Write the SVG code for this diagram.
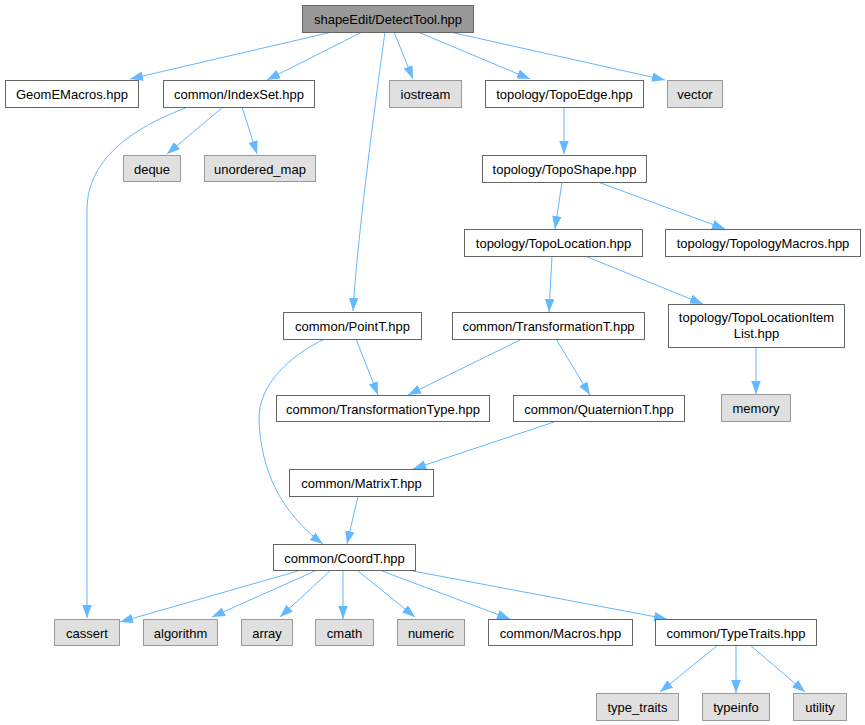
<svg xmlns="http://www.w3.org/2000/svg" width="865" height="725" viewBox="0 0 865 725">
<style>
.n rect{fill:#ffffff;stroke:#666666;stroke-width:1}
.g rect{fill:#e0e0e0;stroke:#999999;stroke-width:1}
.r rect{fill:#999999;stroke:#666666;stroke-width:1}
text{font-family:"Liberation Sans",Arial,sans-serif;font-size:13px;fill:#000000;text-anchor:middle}
#edges path{fill:none;stroke:#63b8ff;stroke-width:1;marker-end:url(#arr)}
</style>
<defs>
<marker id="arr" markerUnits="userSpaceOnUse" viewBox="0 0 13 9.5" refX="13" refY="4.75" markerWidth="13" markerHeight="9.5" orient="auto">
<path d="M0,0 L13,4.75 L0,9.5 z" fill="#63b8ff" stroke="none"/>
</marker>
</defs>
<rect width="865" height="725" fill="#ffffff"/>
<g id="edges">
<path d="M332,32 L130,79"/>
<path d="M362,32 L267,80"/>
<path d="M385,32 C377,90 358,230 353,311"/>
<path d="M394,32 L413,79"/>
<path d="M418,32 L530,79"/>
<path d="M450,32 L665,80"/>
<path d="M223,107 L167,154"/>
<path d="M242,107 L257,154"/>
<path d="M188,107 C140,125 87,155 87,210 L87,618"/>
<path d="M564,107 L564,154"/>
<path d="M562,182 L555,229"/>
<path d="M598,182 L725,229"/>
<path d="M552,256 L549,312"/>
<path d="M585,256 L703,304"/>
<path d="M356,339 L378,395"/>
<path d="M325,339 C290,355 258,385 259,420 C261,470 280,512 323,544"/>
<path d="M522,339 L408,395"/>
<path d="M556,339 L590,395"/>
<path d="M557,421 L413,469"/>
<path d="M756,347 L756,394"/>
<path d="M358,496 L347,544"/>
<path d="M298,571 L120,622"/>
<path d="M315,571 L212,617"/>
<path d="M330,571 L280,617"/>
<path d="M343,571 L343,619"/>
<path d="M358,571 L415,617"/>
<path d="M382,571 L510,619"/>
<path d="M413,571 L667,619"/>
<path d="M718,645 L660,692"/>
<path d="M736,645 L736,693"/>
<path d="M750,645 L805,692"/>
</g>
<g id="n_top" class="r"><rect x="302.5" y="5.5" width="171" height="27"/><text x="388" y="24">shapeEdit/DetectTool.hpp</text></g>
<g id="n_geom" class="n"><rect x="5.5" y="80.5" width="133" height="27"/><text x="72" y="99">GeomEMacros.hpp</text></g>
<g id="n_indexset" class="n"><rect x="163.5" y="80.5" width="151" height="27"/><text x="239" y="99">common/IndexSet.hpp</text></g>
<g id="n_iostream" class="g"><rect x="389.5" y="80.5" width="72" height="27"/><text x="425.5" y="99">iostream</text></g>
<g id="n_topoedge" class="n"><rect x="485.5" y="80.5" width="158" height="27"/><text x="564.5" y="99">topology/TopoEdge.hpp</text></g>
<g id="n_vector" class="g"><rect x="667.5" y="80.5" width="55" height="27"/><text x="695" y="99">vector</text></g>
<g id="n_deque" class="g"><rect x="123.5" y="155.5" width="57" height="26"/><text x="152" y="173.5">deque</text></g>
<g id="n_umap" class="g"><rect x="204.5" y="155.5" width="111" height="26"/><text x="260" y="173.5">unordered_map</text></g>
<g id="n_toposhape" class="n"><rect x="482.5" y="155.5" width="164" height="27"/><text x="564.5" y="174">topology/TopoShape.hpp</text></g>
<g id="n_topoloc" class="n"><rect x="464.5" y="229.5" width="178" height="27"/><text x="553.5" y="248">topology/TopoLocation.hpp</text></g>
<g id="n_topomacros" class="n"><rect x="665.5" y="229.5" width="195" height="27"/><text x="763" y="248">topology/TopologyMacros.hpp</text></g>
<g id="n_pointt" class="n"><rect x="283.5" y="312.5" width="138" height="27"/><text x="352.5" y="331">common/PointT.hpp</text></g>
<g id="n_transt" class="n"><rect x="452.5" y="312.5" width="192" height="27"/><text x="548.5" y="331">common/TransformationT.hpp</text></g>
<g id="n_itemlist" class="n"><rect x="668.5" y="304.5" width="176" height="43"/><text x="756.5" y="322">topology/TopoLocationItem</text><text x="756.5" y="338">List.hpp</text></g>
<g id="n_transtype" class="n"><rect x="276.5" y="395.5" width="213" height="26"/><text x="383" y="413.5">common/TransformationType.hpp</text></g>
<g id="n_quat" class="n"><rect x="513.5" y="395.5" width="171" height="26"/><text x="599" y="413.5">common/QuaternionT.hpp</text></g>
<g id="n_memory" class="g"><rect x="721.5" y="394.5" width="69" height="27"/><text x="756" y="413">memory</text></g>
<g id="n_matrix" class="n"><rect x="289.5" y="469.5" width="144" height="27"/><text x="361.5" y="488">common/MatrixT.hpp</text></g>
<g id="n_coord" class="n"><rect x="273.5" y="544.5" width="142" height="26"/><text x="344.5" y="562.5">common/CoordT.hpp</text></g>
<g id="n_cassert" class="g"><rect x="54.5" y="619.5" width="65" height="26"/><text x="87" y="637.5">cassert</text></g>
<g id="n_algorithm" class="g"><rect x="143.5" y="619.5" width="74" height="26"/><text x="180.5" y="637.5">algorithm</text></g>
<g id="n_array" class="g"><rect x="241.5" y="619.5" width="51" height="26"/><text x="267" y="637.5">array</text></g>
<g id="n_cmath" class="g"><rect x="315.5" y="619.5" width="58" height="26"/><text x="344.5" y="637.5">cmath</text></g>
<g id="n_numeric" class="g"><rect x="397.5" y="619.5" width="67" height="26"/><text x="431" y="637.5">numeric</text></g>
<g id="n_macros" class="n"><rect x="488.5" y="619.5" width="144" height="26"/><text x="560.5" y="637.5">common/Macros.hpp</text></g>
<g id="n_typetraits" class="n"><rect x="655.5" y="619.5" width="161" height="26"/><text x="736" y="637.5">common/TypeTraits.hpp</text></g>
<g id="n_type_traits" class="g"><rect x="596.5" y="693.5" width="82" height="27"/><text x="637.5" y="712">type_traits</text></g>
<g id="n_typeinfo" class="g"><rect x="702.5" y="693.5" width="67" height="27"/><text x="736" y="712">typeinfo</text></g>
<g id="n_utility" class="g"><rect x="793.5" y="693.5" width="53" height="27"/><text x="820" y="712">utility</text></g>
</svg>
